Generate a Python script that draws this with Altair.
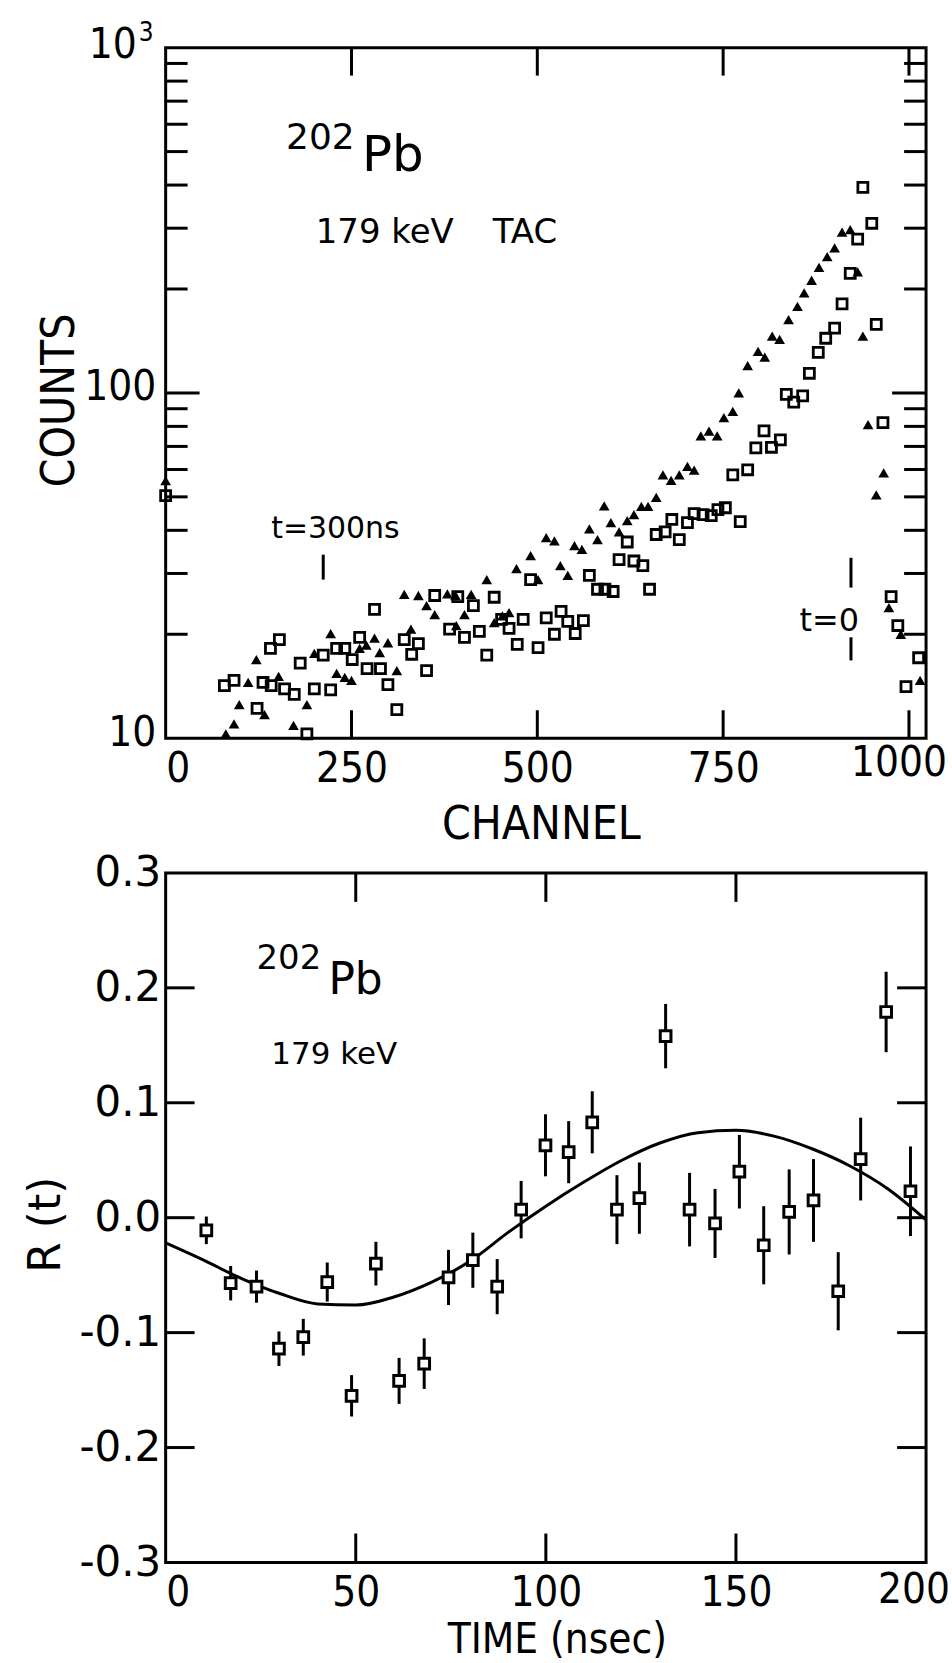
import altair as alt
import pandas as pd

# ---------------- top panel : TAC spectrum (channel, counts) ----------------
tri_channel = [0, 81, 92, 99, 111, 122, 133, 152, 172, 190, 200, 222, 230, 241, 250, 261, 270, 281, 288, 299,
               311, 321, 330, 340, 351, 362, 379, 390, 391, 402, 411, 432, 442, 453, 462, 472, 491, 501, 512, 523,
               531, 541, 550, 560, 570, 581, 590, 599, 610, 621, 630, 640, 649, 660, 669, 680, 691, 702, 711, 720,
               731, 742, 751, 763, 771, 783, 797, 806, 816, 826, 838, 850, 859, 869, 879, 890, 900, 910, 921, 931,
               938, 945, 956, 966, 973, 989, 1015]
tri_counts = [55.7, 10.3, 11.0, 12.5, 14.5, 16.9, 11.7, 15.1, 10.9, 12.5, 17.6, 20.1, 15.4, 15.0, 14.7, 18.2, 18.6, 19.5, 17.7, 18.9,
              15.7, 26.1, 20.7, 25.9, 24.2, 22.8, 26.2, 25.9, 21.2, 22.8, 26.1, 28.8, 21.6, 22.6, 23.1, 31.0, 33.8, 28.8, 38.1, 37.3,
              31.6, 29.6, 36.1, 35.2, 40.4, 37.6, 47.1, 42.1, 39.6, 42.7, 44.4, 46.9, 46.9, 49.8, 57.9, 55.8, 57.9, 61.3, 59.8, 75.1,
              77.5, 75.1, 84.8, 88.4, 100, 120, 132, 127, 146, 143, 163, 178, 195, 212, 231, 248, 263, 292, 297, 224,
              146, 81, 50.7, 58.7, 23.9, 20.0, 14.7]

sq_channel = [0, 79, 92, 123, 131, 141, 142, 153, 160, 173, 181, 190, 200, 212, 222, 230, 241, 251, 261, 271,
              281, 289, 299, 311, 321, 331, 340, 351, 362, 382, 393, 402, 414, 422, 432, 442, 452, 462, 473, 481,
              491, 501, 512, 523, 532, 541, 551, 562, 570, 581, 591, 602, 610, 621, 630, 642, 651, 660, 672, 681,
              691, 702, 711, 723, 734, 743, 753, 763, 773, 783, 794, 805, 815, 827, 835, 845, 857, 866, 878, 888,
              900, 910, 921, 931, 938, 950, 956, 965, 976, 985, 996, 1013]
sq_counts = [50.4, 14.2, 14.7, 12.2, 14.5, 18.2, 14.2, 19.3, 13.9, 13.4, 16.5, 10.3, 13.9, 17.4, 13.8, 18.2, 18.2, 16.9, 19.6, 15.9,
             23.6, 15.9, 14.3, 12.1, 19.3, 17.5, 18.8, 15.7, 25.9, 20.7, 25.7, 19.6, 24.2, 20.4, 17.4, 25.6, 22.1, 20.8, 18.7, 22.1,
             28.8, 18.3, 22.3, 20.0, 23.3, 21.8, 20.1, 21.9, 29.6, 27.0, 27.0, 26.6, 32.9, 37.0, 32.6, 31.6, 27.0, 38.9, 39.6, 43.0,
             37.6, 42.1, 44.7, 44.4, 44.1, 45.9, 46.5, 57.9, 42.4, 59.9, 69.3, 77.6, 69.6, 73.1, 99, 94, 98, 114, 131, 144,
             154, 181, 222, 279, 394, 310, 158, 82, 25.7, 21.2, 14.1, 17.1]

top_x_ticks = [250, 500, 750, 1000]
top_y_minor = [20, 30, 40, 50, 60, 70, 80, 90, 200, 300, 400, 500, 600, 700, 800, 900]
top_y_major = [100]
top_y_labels = [10, 100]
top_x_labels = [0, 250, 500, 750]

# ---------------- bottom panel : R(t) ----------------
time_ns = [10.7, 17.1, 23.9, 29.8, 36.2, 42.5, 48.9, 55.3, 61.4, 68.0, 74.4, 80.8, 87.2, 93.5, 99.9,
           106.0, 112.2, 118.7, 124.6, 131.5, 137.8, 144.5, 150.9, 157.3, 164.0, 170.4, 176.9, 182.8, 189.5, 195.9]
r_value = [-0.011, -0.057, -0.060, -0.114, -0.104, -0.056, -0.155, -0.040, -0.142, -0.127, -0.052, -0.037, -0.060, 0.007, 0.063,
           0.057, 0.083, 0.007, 0.017, 0.158, 0.007, -0.005, 0.040, -0.024, 0.005, 0.015, -0.064, 0.051, 0.179, 0.023]
r_error = [0.012, 0.015, 0.014, 0.015, 0.016, 0.017, 0.018, 0.019, 0.020, 0.022, 0.024, 0.024, 0.024, 0.025, 0.027,
           0.027, 0.027, 0.030, 0.031, 0.028, 0.032, 0.030, 0.032, 0.034, 0.037, 0.036, 0.034, 0.036, 0.035, 0.039]

fit_time = [0, 10, 20, 30, 40, 50, 60, 70, 80, 90, 100, 110, 120, 130, 140, 150, 160, 170, 180, 190, 200]
fit_r = [-0.022, -0.037, -0.053, -0.066, -0.075, -0.076, -0.069, -0.056, -0.038, -0.013, 0.010, 0.031, 0.050, 0.065,
         0.074, 0.076, 0.071, 0.060, 0.045, 0.025, -0.002]

bot_x_ticks = [50, 100, 150]
bot_y_ticks = [-0.2, -0.1, 0.0, 0.1, 0.2]
bot_x_labels = [0, 50, 100, 150]
bot_y_labels = [-0.3, -0.2, -0.1, 0.0, 0.1, 0.2, 0.3]

# ---------------- annotations ----------------
top_notes_big = pd.DataFrame({"x": [264], "y": [440], "t": ["Pb"]})
top_notes_sup = pd.DataFrame({"x": [162], "y": [510], "t": ["202"]})
top_notes_mid = pd.DataFrame({"x": [202, 440], "y": [272, 272], "t": ["179 keV", "TAC"]})
top_notes_t300 = pd.DataFrame({"x": [142], "y": [38.1], "t": ["t=300ns"]})
top_notes_t0 = pd.DataFrame({"x": [933], "y": [20.5], "t": ["t=0"]})
top_label_1000 = pd.DataFrame({"x": [-39.0], "y": [935.6], "t": ["10"]})
top_exponent = pd.DataFrame({"x": [-36.3], "y": [1047.6], "t": ["3"]})
top_xlabel_last = pd.DataFrame({"x": [1000], "y": [7.77], "t": ["1000"]})
marker_bars = pd.DataFrame({"x": [212, 922, 922], "y1": [34.0, 33.3, 19.6], "y2": [28.8, 27.3, 16.8]})

bot_notes_big = pd.DataFrame({"x": [42.8], "y": [0.195], "t": ["Pb"]})
bot_notes_sup = pd.DataFrame({"x": [23.9], "y": [0.2166], "t": ["202"]})
bot_notes_mid = pd.DataFrame({"x": [27.8], "y": [0.134], "t": ["179 keV"]})
bot_label_200 = pd.DataFrame({"x": [200], "y": [-0.3356], "t": ["200"]})

W = 762
H1 = 692
H2 = 691
AX_FONT = "DejaVu Sans Condensed, Liberation Sans Narrow, DejaVu Sans, sans-serif"
TXT_FONT = "DejaVu Sans"
LW = 3

# ================= top panel =================
xs1 = alt.Scale(domain=[0, 1023], nice=False, zero=False)
ys1 = alt.Scale(type="log", domain=[10, 1000], nice=False)

x_axis1 = alt.Axis(values=top_x_labels, format="d", ticks=False, domain=False, grid=False,
                   labelFont=AX_FONT, labelFontSize=42, labelColor="black", labelPadding=10,
                   title="CHANNEL", titleFont=AX_FONT, titleFontSize=46, titleFontWeight="normal",
                   titleColor="black", titleBaseline="alphabetic", titleY=101, titleX=376)
y_axis1 = alt.Axis(values=top_y_labels, format="d",
                   ticks=False, domain=False, grid=False,
                   labelFont=AX_FONT, labelFontSize=42, labelColor="black", labelPadding=10, labelOffset=-6,
                   title="COUNTS", titleFont=AX_FONT, titleFontSize=46, titleFontWeight="normal",
                   titleColor="black", titleBaseline="alphabetic", titleX=-92, titleY=353)


def X1(field):
    return alt.X(field, scale=xs1, axis=x_axis1)


def Y1(field):
    return alt.Y(field, scale=ys1, axis=y_axis1)


tri_df = pd.DataFrame({"channel": tri_channel, "counts": tri_counts})
sq_df = pd.DataFrame({"channel": sq_channel, "counts": sq_counts})

tri = alt.Chart(tri_df).mark_point(shape="triangle-up", filled=True, size=115, color="black", opacity=1).encode(
    x=X1("channel:Q"), y=Y1("counts:Q"))
sq = alt.Chart(sq_df).mark_point(shape="square", filled=False, size=100, color="black", strokeWidth=2.8, opacity=1).encode(
    x=X1("channel:Q"), y=Y1("counts:Q"))


def vrules(values, X, h, length):
    df = pd.DataFrame({"v": values})
    bot = alt.Chart(df).mark_rule(color="black", strokeWidth=LW).encode(
        x=X("v:Q"), y=alt.value(h), y2=alt.value(h - length))
    top = alt.Chart(df).mark_rule(color="black", strokeWidth=LW).encode(
        x=X("v:Q"), y=alt.value(0), y2=alt.value(length))
    return [bot, top]


def hrules(values, Y, w, length):
    df = pd.DataFrame({"v": values})
    left = alt.Chart(df).mark_rule(color="black", strokeWidth=LW).encode(
        y=Y("v:Q"), x=alt.value(0), x2=alt.value(length))
    right = alt.Chart(df).mark_rule(color="black", strokeWidth=LW).encode(
        y=Y("v:Q"), x=alt.value(w), x2=alt.value(w - length))
    return [left, right]


def text_layer(df, X, Y, size, font, weight="normal", align="left", dx=0):
    return alt.Chart(df).mark_text(font=font, fontSize=size, fontWeight=weight, align=align, dx=dx,
                                   baseline="alphabetic", color="black").encode(
        x=X("x:Q"), y=Y("y:Q"), text="t:N")


bars = alt.Chart(marker_bars).mark_rule(color="black", strokeWidth=LW).encode(
    x=X1("x:Q"), y=Y1("y1:Q"), y2="y2:Q")

top_layers = [tri, sq] + vrules(top_x_ticks, X1, H1, 28) + hrules(top_y_minor, Y1, W, 22) + hrules(top_y_major, Y1, W, 34) + [
    bars,
    text_layer(top_notes_big, X1, Y1, 50, TXT_FONT),
    text_layer(top_notes_sup, X1, Y1, 36, TXT_FONT),
    text_layer(top_notes_mid, X1, Y1, 34, TXT_FONT),
    text_layer(top_notes_t300, X1, Y1, 30, TXT_FONT),
    text_layer(top_notes_t0, X1, Y1, 32, TXT_FONT, align="right"),
    text_layer(top_label_1000, X1, Y1, 42, AX_FONT, align="right"),
    text_layer(top_exponent, X1, Y1, 26, AX_FONT),
    text_layer(top_xlabel_last, X1, Y1, 42, AX_FONT, align="right", dx=38),
]
top = alt.layer(*top_layers).properties(width=W, height=H1)

# ================= bottom panel =================
xs2 = alt.Scale(domain=[0, 200], nice=False, zero=False)
ys2 = alt.Scale(domain=[-0.3, 0.3], nice=False, zero=False)

x_axis2 = alt.Axis(values=bot_x_labels, format="d", ticks=False, domain=False, grid=False, labelFlush=False,
                   labelAlign={"expr": "datum.value == 0 ? 'left' : 'center'"},
                   labelFont=AX_FONT, labelFontSize=42, labelColor="black", labelPadding=10,
                   title="TIME (nsec)", titleFont=AX_FONT, titleFontSize=42, titleFontWeight="normal",
                   titleColor="black", titleBaseline="alphabetic", titleY=90, titleX=392)
y_axis2 = alt.Axis(values=bot_y_labels,
                   labelExpr="datum.value < -0.0001 ? '-' + format(-datum.value, '.1f') : format(abs(datum.value), '.1f')",
                   ticks=False, domain=False, grid=False,
                   labelFont=TXT_FONT, labelFontSize=42, labelColor="black", labelPadding=5,
                   title="R (t)", titleFont=TXT_FONT, titleFontSize=44, titleFontWeight="normal",
                   titleColor="black", titleBaseline="alphabetic", titleX=-106, titleY=352)


def X2(field):
    return alt.X(field, scale=xs2, axis=x_axis2)


def Y2(field):
    return alt.Y(field, scale=ys2, axis=y_axis2)


pts_df = pd.DataFrame({"time": time_ns, "r": r_value, "err": r_error})
pts_df["lo"] = pts_df["r"] - pts_df["err"]
pts_df["hi"] = pts_df["r"] + pts_df["err"]
fit_df = pd.DataFrame({"time": fit_time, "r": fit_r})

fit_line = alt.Chart(fit_df).mark_line(color="black", strokeWidth=3, interpolate="monotone").encode(
    x=X2("time:Q"), y=Y2("r:Q"))
err_bars = alt.Chart(pts_df).mark_rule(color="black", strokeWidth=3).encode(
    x=X2("time:Q"), y=Y2("lo:Q"), y2="hi:Q")
pts = alt.Chart(pts_df).mark_point(shape="square", filled=True, fill="white", stroke="black", strokeWidth=3,
                                   size=115, opacity=1).encode(
    x=X2("time:Q"), y=Y2("r:Q"))

bot_layers = [fit_line, err_bars, pts] + vrules(bot_x_ticks, X2, H2, 29) + hrules(bot_y_ticks, Y2, W, 29) + [
    text_layer(bot_notes_big, X2, Y2, 44, TXT_FONT),
    text_layer(bot_notes_sup, X2, Y2, 34, TXT_FONT),
    text_layer(bot_notes_mid, X2, Y2, 31, TXT_FONT),
    text_layer(bot_label_200, X2, Y2, 42, AX_FONT, align="right", dx=24),
]
bottom = alt.layer(*bot_layers).properties(width=W, height=H2)

chart = alt.vconcat(top, bottom, spacing=135, bounds="flush").properties(
    padding={"left": 23, "top": 16, "right": 0, "bottom": 0}, background="white"
).configure_view(stroke="black", strokeWidth=3)

chart.save("out.html", embed_options={"renderer": "svg", "actions": False})
